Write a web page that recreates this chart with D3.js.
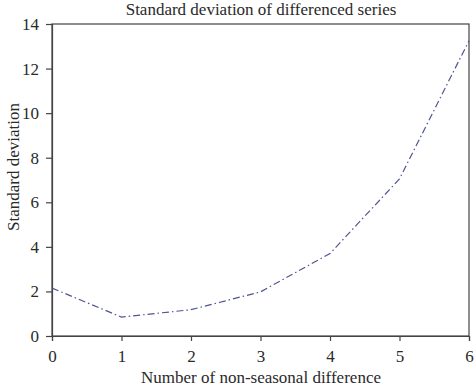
<!DOCTYPE html>
<html><head><meta charset="utf-8">
<script src="https://cdn.jsdelivr.net/npm/d3@7"></script>
<style>body{margin:0;background:#fff}svg{display:block}text{font-family:"Liberation Serif","DejaVu Serif",serif;fill:#2a2a2a}</style>
</head><body><svg id="c" width="474" height="390"></svg>
<script>
const xValues = [0, 1, 2, 3, 4, 5, 6];
const stdValues = [2.15, 0.85, 1.18, 1.98, 3.7, 7.05, 13.25];
const xTicks = [0, 1, 2, 3, 4, 5, 6];
const yTicks = [0, 2, 4, 6, 8, 10, 12, 14];
const title = "Standard deviation of differenced series";
const xLabel = "Number of non-seasonal difference";
const yLabel = "Standard deviation";

const svg = d3.select("#c");
const L = 52, R = 469, T = 24, B = 336;
const x = d3.scaleLinear().domain([0, 6]).range([L, R]);
const y = d3.scaleLinear().domain([0, 14]).range([B, T]);

svg.append("rect").attr("x", L).attr("y", T).attr("width", R - L).attr("height", B - T)
  .attr("fill", "none").attr("stroke", "#444").attr("stroke-width", 1.2);

const xa = svg.append("g").attr("transform", `translate(0,${B})`)
  .call(d3.axisBottom(x).tickValues(xTicks).tickSize(5).tickPadding(9).tickFormat(d3.format("d")));
const ya = svg.append("g").attr("transform", `translate(${L},0)`)
  .call(d3.axisLeft(y).tickValues(yTicks).tickSize(6).tickPadding(7).tickFormat(d3.format("d")));
[xa, ya].forEach(g => {
  g.select(".domain").attr("stroke", "#444").attr("stroke-width", 1.2);
  g.selectAll(".tick line").attr("stroke", "#444").attr("stroke-width", 1.2);
  g.selectAll(".tick text").style("font-family", '"Liberation Serif",serif').style("font-size", "17px").attr("fill", "#2a2a2a");
});

const line = d3.line().x((d, i) => x(xValues[i])).y(d => y(d));
svg.append("path").datum(stdValues).attr("d", line)
  .attr("fill", "none").attr("stroke", "#4f5590").attr("stroke-width", 1.2)
  .attr("stroke-dasharray", "7,3,1.5,3");

svg.append("text").attr("x", 261).attr("y", 15).attr("text-anchor", "middle")
  .style("font-size", "17px").text(title);
svg.append("text").attr("x", 261).attr("y", 383).attr("text-anchor", "middle")
  .style("font-size", "17px").text(xLabel);
svg.append("text").attr("transform", `translate(19,167) rotate(-90)`).attr("text-anchor", "middle")
  .style("font-size", "17px").text(yLabel);
</script></body></html>
